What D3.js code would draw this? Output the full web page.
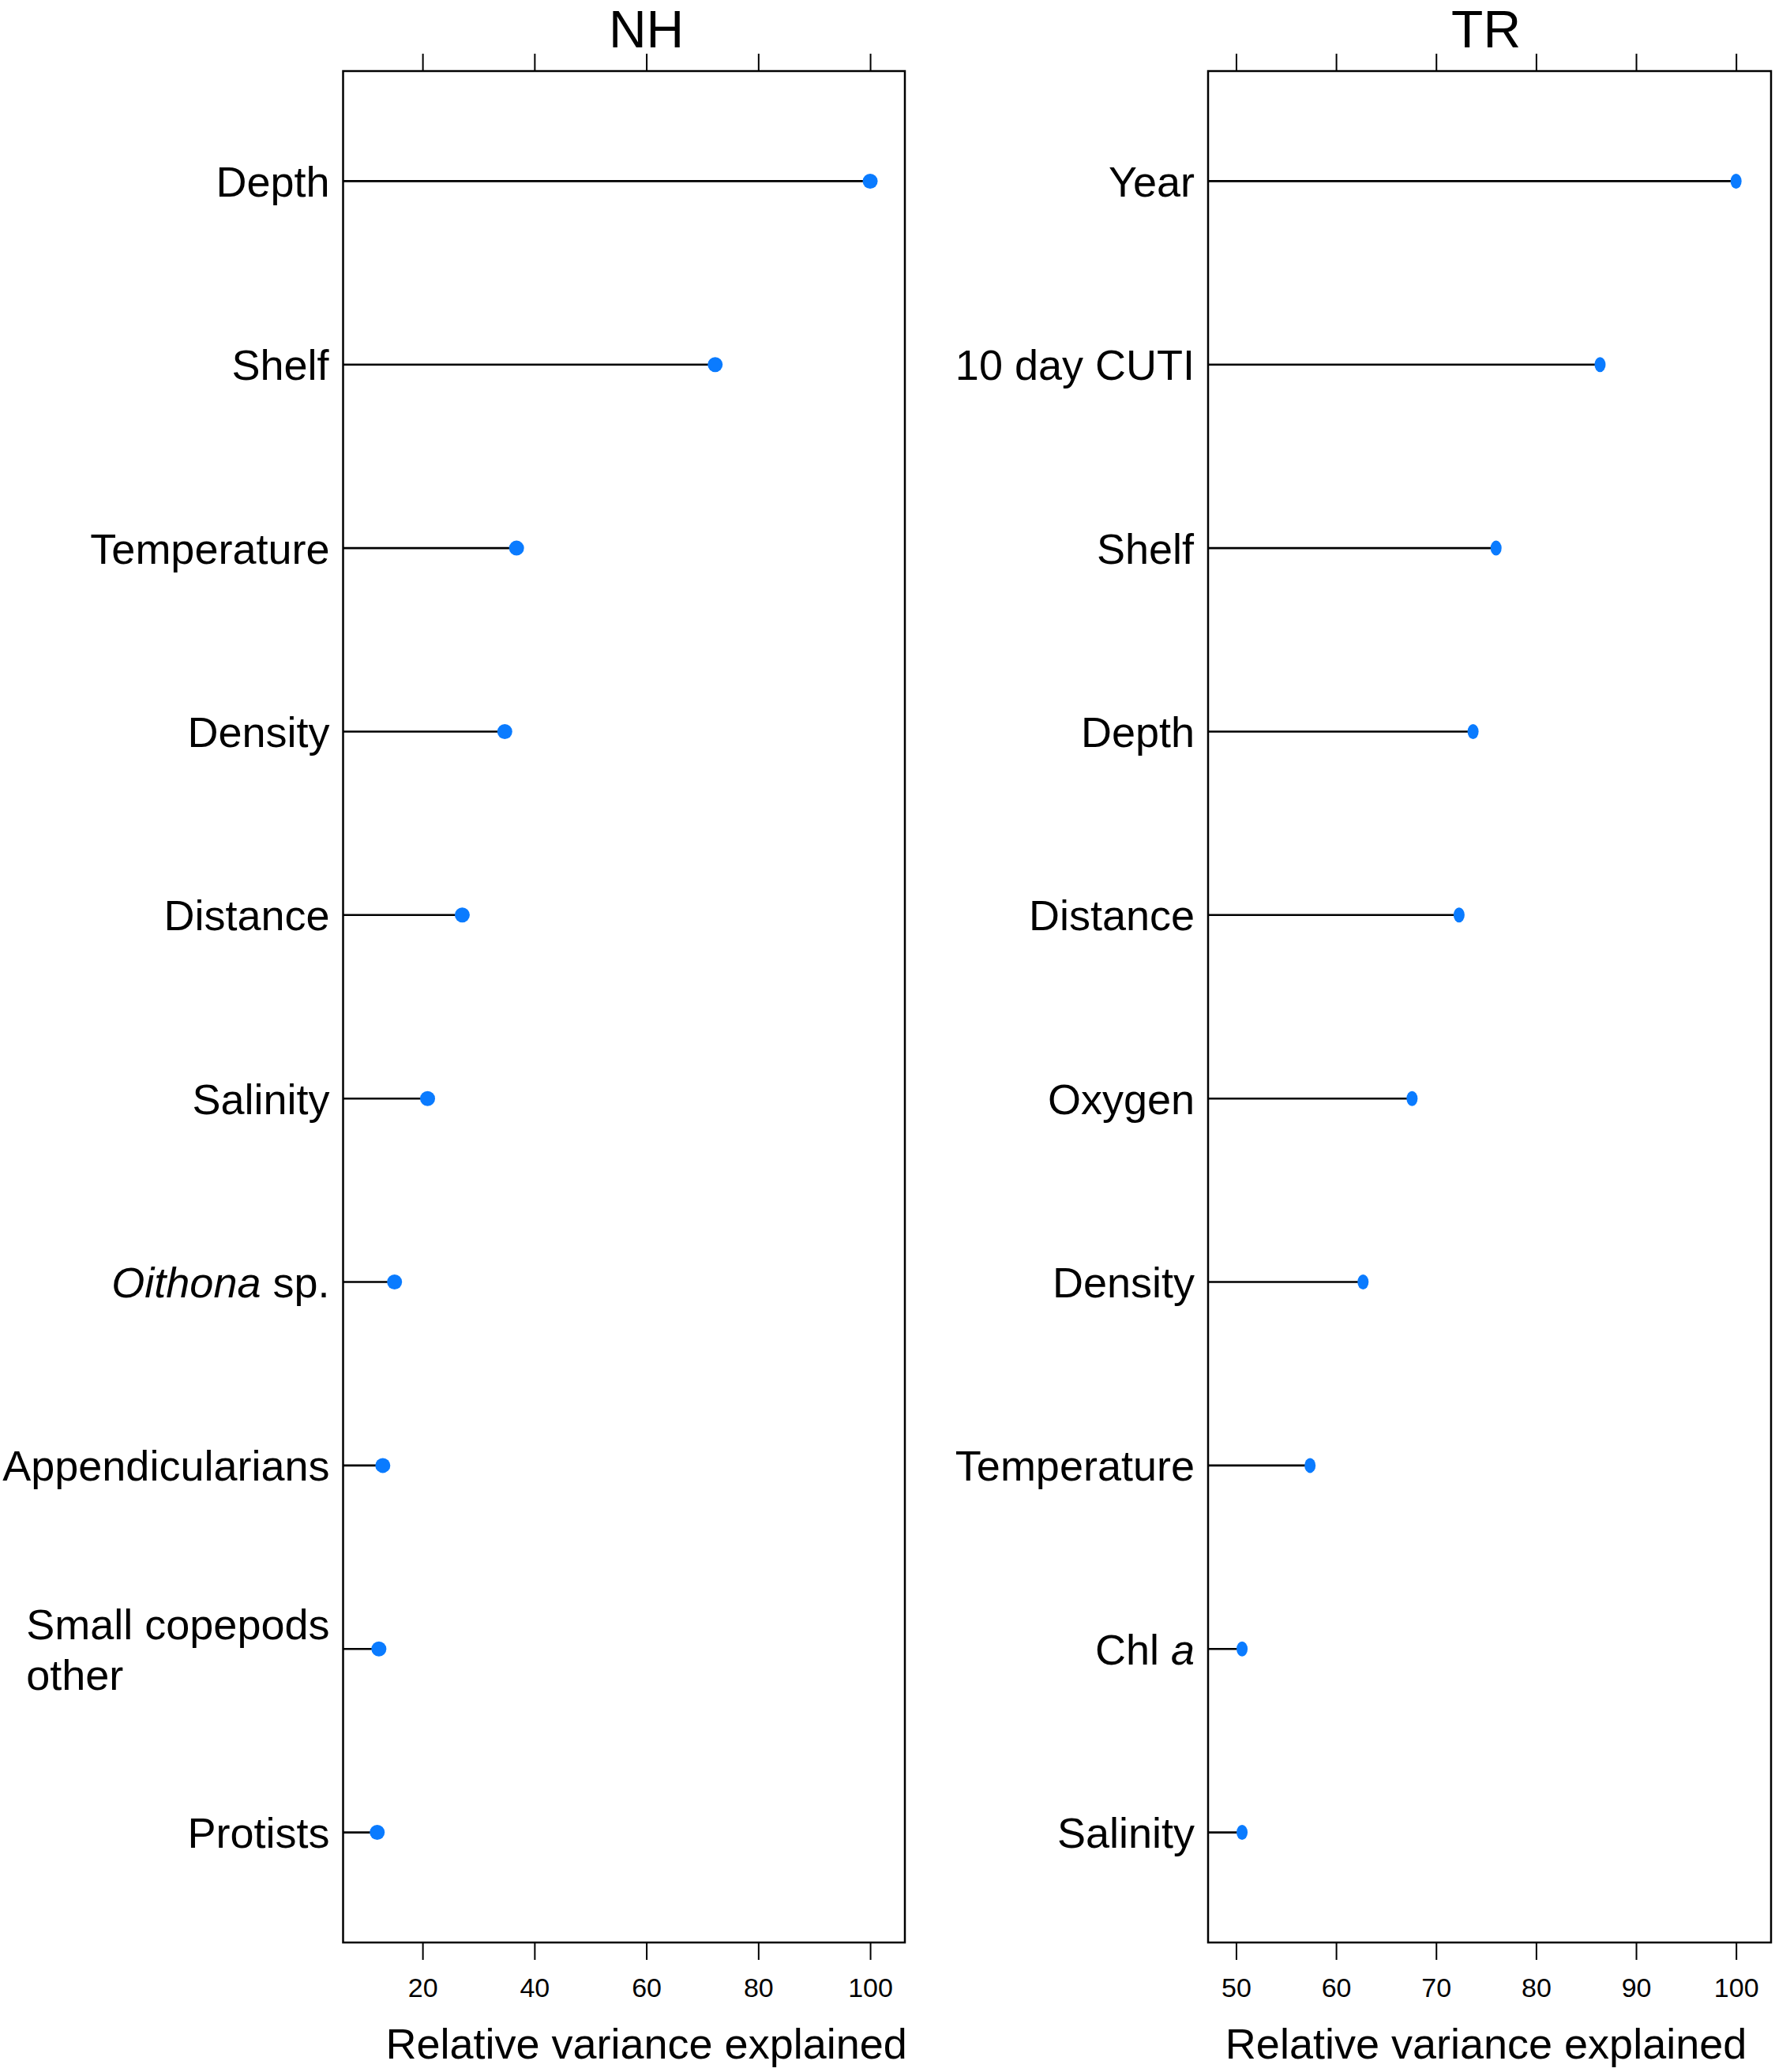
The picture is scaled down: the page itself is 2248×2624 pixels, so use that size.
<!DOCTYPE html>
<html lang="en">
<head>
    <meta charset="UTF-8">
    <title>Relative variance explained - NH and TR</title>
    <script src="https://d3js.org/d3.v7.min.js"></script>
    <style>
        body {
            margin: 0;
            padding: 0;
            background-color: #ffffff;
            font-family: 'Liberation Sans', Arial, sans-serif;
        }
        svg { display: block; }
        .frame { fill: none; stroke: #000; stroke-width: 2.5; }
        .stem { stroke: #000; stroke-width: 2.6; }
        .dot { fill: #0a7bff; }
        .axis path.domain { display: none; }
        .axis line { stroke: #000; stroke-width: 2; }
        .axis text { font-size: 34px; fill: #000; font-family: 'Liberation Sans', Arial, sans-serif; }
        .cat-label { font-size: 54px; fill: #000; }
        .panel-title { font-size: 66px; fill: #000; text-anchor: middle; }
        .x-label { font-size: 54px; fill: #000; text-anchor: middle; }
    </style>
</head>
<body>
    <svg id="chart" width="2248" height="2624"></svg>

    <script>
        // --- data ---
        const nhVars = ["Depth", "Shelf", "Temperature", "Density", "Distance", "Salinity",
                        "Oithona sp.", "Appendicularians", "Small copepods\nother", "Protists"];
        const nhValues = [100, 72.3, 36.8, 34.7, 27.1, 20.9, 15.0, 12.9, 12.2, 11.9];
        const nhTicks = [20, 40, 60, 80, 100];

        const trVars = ["Year", "10 day CUTI", "Shelf", "Depth", "Distance", "Oxygen",
                        "Density", "Temperature", "Chl a", "Salinity"];
        const trValues = [100, 86.4, 76.0, 73.7, 72.3, 67.6, 62.7, 57.4, 50.6, 50.6];
        const trTicks = [50, 60, 70, 80, 90, 100];

        // words set in italics inside a label
        const italicWords = { "Oithona sp.": ["Oithona"], "Chl a": ["a"] };

        const xTitle = "Relative variance explained";

        // --- layout ---
        const plotTop = 90, plotBottom = 2460;
        const svg = d3.select("#chart");

        const panels = [
            { title: "NH", vars: nhVars, values: nhValues, ticks: nhTicks,
              left: 434.5, right: 1146, domain: [5.8, 106.2], rx: 9.5, ry: 9.5 },
            { title: "TR", vars: trVars, values: trValues, ticks: trTicks,
              left: 1530, right: 2243, domain: [47.2, 103.5], rx: 7, ry: 9.5 }
        ];

        panels.forEach(p => {
            const x = d3.scaleLinear().domain(p.domain).range([p.left, p.right]);
            const y = d3.scalePoint().domain(p.vars).range([plotTop, plotBottom]).padding(0.6);
            const rows = p.vars.map((v, i) => ({ name: v, value: p.values[i] }));
            const g = svg.append("g");

            // stems from the left edge of the panel
            g.selectAll("line.stem")
                .data(rows)
                .enter().append("line")
                .attr("class", "stem")
                .attr("x1", p.left)
                .attr("x2", d => x(d.value))
                .attr("y1", d => y(d.name))
                .attr("y2", d => y(d.name));

            g.selectAll("ellipse.dot")
                .data(rows)
                .enter().append("ellipse")
                .attr("class", "dot")
                .attr("cx", d => x(d.value))
                .attr("cy", d => y(d.name))
                .attr("rx", p.rx)
                .attr("ry", p.ry);

            // frame
            g.append("rect")
                .attr("class", "frame")
                .attr("x", p.left)
                .attr("y", plotTop)
                .attr("width", p.right - p.left)
                .attr("height", plotBottom - plotTop);

            // axes: ticks on top (no labels) and bottom
            g.append("g")
                .attr("class", "axis")
                .attr("transform", `translate(0,${plotTop})`)
                .call(d3.axisTop(x).tickValues(p.ticks).tickSize(22).tickSizeOuter(0).tickFormat(""));

            g.append("g")
                .attr("class", "axis")
                .attr("transform", `translate(0,${plotBottom})`)
                .call(d3.axisBottom(x).tickValues(p.ticks).tickSize(22).tickPadding(23).tickSizeOuter(0));

            // titles centred over the tick range
            const mid = x((p.ticks[0] + p.ticks[p.ticks.length - 1]) / 2);
            g.append("text")
                .attr("class", "panel-title")
                .attr("x", mid)
                .attr("y", 60)
                .text(p.title);

            g.append("text")
                .attr("class", "x-label")
                .attr("x", mid)
                .attr("y", 2607)
                .text(xTitle);

            // category labels
            rows.forEach(d => {
                const lines = d.name.split("\n");
                const italics = italicWords[d.name] || [];
                const t = g.append("text")
                    .attr("class", "cat-label");
                const lh = 64;
                const y0 = y(d.name) - (lines.length - 1) * lh / 2;
                lines.forEach((ln, li) => {
                    const tokens = ln.split(" ");
                    tokens.forEach((tok, ti) => {
                        const ts = t.append("tspan")
                            .text((ti > 0 ? " " : "") + tok)
                            .style("font-style", italics.includes(tok) ? "italic" : "normal");
                        if (ti === 0) {
                            ts.attr("class", "line-start")
                              .attr("x", 0)
                              .attr("y", y0 + li * lh)
                              .attr("dy", "0.36em");
                        }
                    });
                });
                // right-align the block against the panel, lines left-justified
                const w = t.node().getBBox().width;
                t.selectAll("tspan.line-start").attr("x", p.left - 17 - w);
            });
        });
    </script>
</body>
</html>
